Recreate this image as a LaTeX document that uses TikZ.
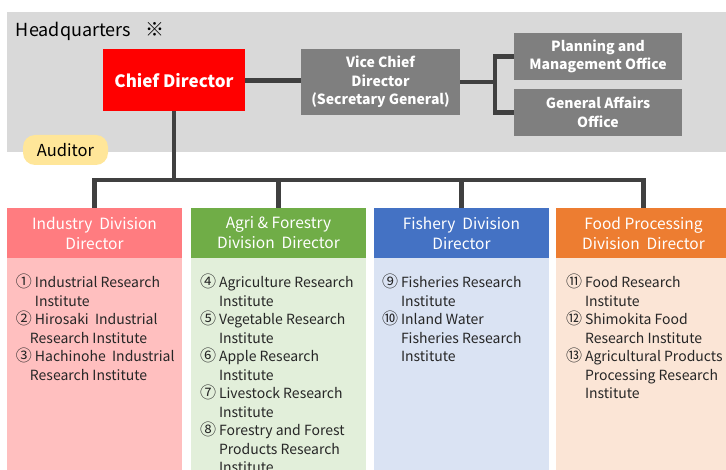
\documentclass[tikz,border=0pt]{standalone}
\usepackage{fontspec}
\setmainfont{Noto Sans CJK JP}
\usetikzlibrary{positioning, calc}

\definecolor{hqgray}{HTML}{D9D9D9}
\definecolor{boxgray}{HTML}{7F7F7F}
\definecolor{linegray}{HTML}{404040}
\definecolor{audyellow}{HTML}{FFE699}
\definecolor{indhead}{HTML}{FF7C80}
\definecolor{indbody}{HTML}{FFBFBF}
\definecolor{agrihead}{HTML}{70AD47}
\definecolor{agribody}{HTML}{E2EFDA}
\definecolor{fishhead}{HTML}{4472C4}
\definecolor{fishbody}{HTML}{DAE3F3}
\definecolor{foodhead}{HTML}{ED7D31}
\definecolor{foodbody}{HTML}{FBE5D6}

\newcommand{\contline}{\hspace*{19pt}}
\newcommand{\cnum}[1]{{\fontsize{16}{18.5}\selectfont #1}\hspace{3pt}}

\begin{document}
\begin{tikzpicture}[x=1pt, y=-1pt,
    every node/.style={inner sep=0pt, outer sep=0pt},
    officebox/.style={fill=boxgray, text=white, align=center,
      font=\bfseries\fontsize{14}{18.5}\selectfont},
    divhead/.style={minimum width=175pt, minimum height=50pt, text=white,
      align=center, font=\fontsize{15.5}{20}\selectfont},
    divbody/.style={minimum width=175pt, minimum height=212pt, anchor=north},
    divlist/.style={anchor=north west, align=left, text=black!85,
      font=\fontsize{14}{18.5}\selectfont},
    conn/.style={draw=linegray, line width=4.5pt}
  ]
  \useasboundingbox (0,0) rectangle (726,470);

  % Headquarters area
  \fill[hqgray] (7,12) rectangle (726,152);
  \node[anchor=west, font=\fontsize{18}{20}\selectfont] (hqlabel) at (16,31)
    {Headquarters\hspace{14pt}{\bfseries\fontsize{19}{20}\selectfont ※}};

  % Top management
  \node[fill=red, text=white, minimum width=142pt, minimum height=62pt,
    font=\bfseries\fontsize{17}{20}\selectfont] (chief) at (174,80.5) {Chief Director};
  \node[officebox, minimum width=159pt, minimum height=66pt] (vice) at (380.5,82)
    {Vice Chief\\Director\\(Secretary General)};
  \node[officebox, minimum width=168pt, minimum height=47pt] (plan) at (598,56.5)
    {Planning and\\Management Office};
  \node[officebox, minimum width=168pt, minimum height=47pt] (gen) at (598,112.5)
    {General Affairs\\Office};
  \node[fill=audyellow, rounded corners=12pt, minimum width=85pt, minimum height=30pt,
    font=\fontsize{16.5}{18}\selectfont] (aud) at (65.5,150) {Auditor};

  % Division directors and bodies
  \foreach \name/\x/\title in {ind/94.5/{Industry\ \ Division\\Director},
      agri/278.5/{Agri \& Forestry\\Division\ \ Director},
      fish/461.5/{Fishery\ \ Division\\Director},
      food/643.5/{Food Processing\\Division\ \ Director}} {
    \node[divbody, fill=\name body] (\name box) at (\x,258) {};
    \node[divhead, fill=\name head] (\name head) at (\x,233) {\title};
  }

  % Institutes
  \node[divlist] (indlist) at (16,274)
    {\cnum{①}Industrial Research\\
     \contline Institute\\
     \cnum{②}Hirosaki\ \ Industrial\\
     \hspace*{14pt}Research Institute\\
     \cnum{③}Hachinohe\ \ Industrial\\
     \hspace*{14pt}Research Institute};
  \node[divlist] (agrilist) at (200,274)
    {\cnum{④}Agriculture Research\\
     \contline Institute\\
     \cnum{⑤}Vegetable Research\\
     \contline Institute\\
     \cnum{⑥}Apple Research\\
     \contline Institute\\
     \cnum{⑦}Livestock Research\\
     \contline Institute\\
     \cnum{⑧}Forestry and Forest\\
     \contline Products Research\\
     \contline Institute};
  \node[divlist] (fishlist) at (382,274)
    {\cnum{⑨}Fisheries Research\\
     \contline Institute\\
     \cnum{⑩}Inland Water\\
     \contline Fisheries Research\\
     \contline Institute};
  \node[divlist] (foodlist) at (566,274)
    {\cnum{⑪}Food Research\\
     \contline Institute\\
     \cnum{⑫}Shimokita Food\\
     \contline Research Institute\\
     \cnum{⑬}Agricultural Products\\
     \contline Processing Research\\
     \contline Institute};

  % Connectors
  \coordinate (split) at (495,83);
  \coordinate (bus) at (174,180);
  \draw[conn] (chief.east) -- (chief.east -| vice.west);
  \draw[conn] (vice.east) -- (vice.east -| split);
  \draw[conn] (plan.west) -| (split) |- (gen.west);
  \draw[conn] (chief.south) -- (bus);
  \draw[conn] (indhead.north) |- (bus -| foodhead.north) -- (foodhead.north);
  \draw[conn] (agrihead.north) -- (agrihead.north |- bus);
  \draw[conn] (fishhead.north) -- (fishhead.north |- bus);
\end{tikzpicture}
\end{document}
